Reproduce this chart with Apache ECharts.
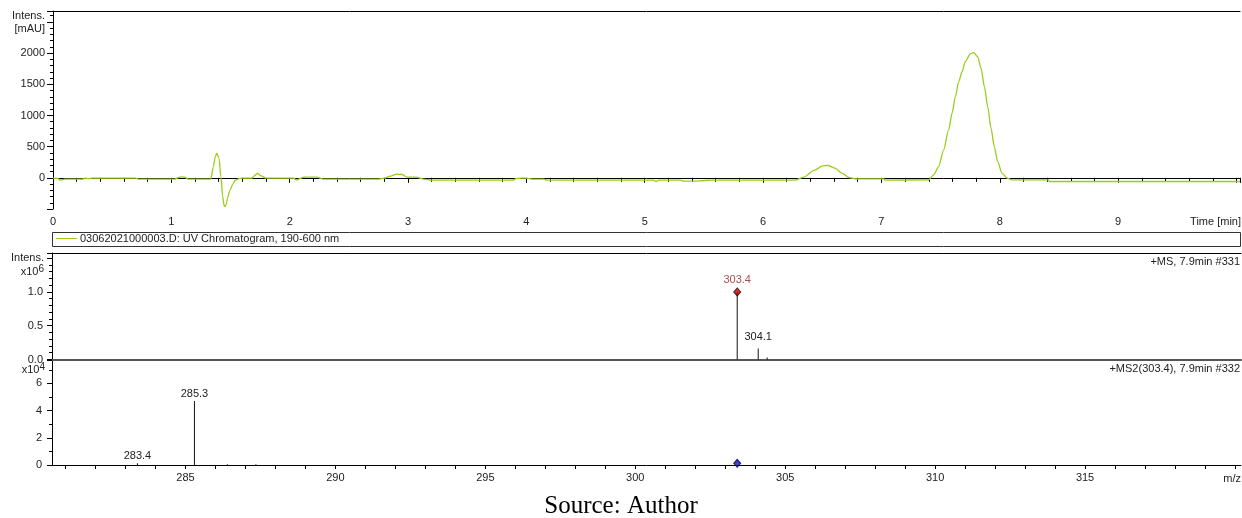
<!DOCTYPE html>
<html>
<head>
<meta charset="utf-8">
<script src="https://cdn.jsdelivr.net/npm/echarts@6/dist/echarts.min.js"></script>
<style>
  html, body { margin: 0; padding: 0; background: #fff; }
  #main { width: 1242px; height: 518px; }
</style>
</head>
<body>
<div id="main"></div>
<script>
// UV chromatogram (time in min, intensity in mAU)
const uvTime = [0.00, 0.04, 0.06, 0.10, 0.25, 0.27, 0.30, 0.33, 0.70, 0.72, 1.03, 1.06, 1.09, 1.12, 1.14,
  1.333, 1.355, 1.37, 1.384, 1.403, 1.418, 1.434, 1.445, 1.454, 1.465, 1.474, 1.496, 1.52, 1.538, 1.566,
  1.60, 1.68, 1.70, 1.727, 1.76, 1.792, 1.80, 2.03, 2.06, 2.09, 2.11, 2.14, 2.23, 2.26, 2.28, 2.75, 2.80,
  2.85, 2.905, 2.95, 2.99, 3.07, 3.13, 3.20, 3.88, 3.92, 3.96, 4.00, 4.05, 4.15, 4.17, 5.07, 5.10, 5.12,
  5.30, 5.33, 5.44, 5.47, 5.56, 6.27, 6.345, 6.43, 6.506, 6.55, 6.608, 6.667, 6.725, 6.78, 7.02, 7.03,
  7.399, 7.441, 7.484, 7.526, 7.568, 7.597, 7.625, 7.653, 7.682, 7.709, 7.751, 7.779, 7.813, 7.842, 7.870,
  7.898, 7.926, 7.954, 7.982, 8.019, 8.062, 8.104, 8.41, 8.42, 10.03];
const uvInt = [-5, -10, -37, -20, -20, -5, -12, -5, -5, -21, -21, 5, 16, 5, -21,
  -21, 181, 330, 396, 316, 21, -300, -440, -460, -420, -326, -192, -100, -43, -16,
  -5, -5, 30, 70, 30, 0, -5, -5, -37, -10, 8, 11, 11, -5, -21, -21, -5,
  27, 59, 53, 11, 11, -21, -37, -37, -10, -5, -5, -21, -21, -37, -37, -59, -37,
  -37, -53, -53, -48, -37, -37, 11, 118, 193, 198, 155, 75, 5, -16, -16, -37,
  -32, 48, 181, 449, 769, 1036, 1303, 1543, 1703, 1864, 1987, 2008, 1944, 1758, 1463,
  1143, 797, 502, 261, 75, -5, -32, -32, -59, -59];
const timeLabels = [0, 1, 2, 3, 4, 5, 6, 7, 8, 9];

// +MS spectrum (intensity x10^6)
const msMz = [303.4, 304.1, 304.4];
const msInt = [1.0, 0.163, 0.03];
const msLabel = ['', '304.1', ''];
const msPrecursor = [303.4, 1.0];

// +MS2 spectrum (intensity x10^4)
const ms2Mz = [283.4, 285.3, 286.4, 287.35];
const ms2Int = [0.12, 4.7, 0.05, 0.05];
const ms2Label = ['283.4', '285.3', '', ''];
const ms2Precursor = [303.4, 0.125];

const mzTicks = [281, 282, 283, 284, 285, 286, 287, 288, 289, 290, 291, 292, 293, 294, 295, 296, 297, 298, 299, 300,
  301, 302, 303, 304, 305, 306, 307, 308, 309, 310, 311, 312, 313, 314, 315, 316, 317, 318, 319, 320];
const mzLabels = [285, 290, 295, 300, 305, 310, 315];

const FONT = 'Liberation Sans';
const TXT = '#222';
const GREEN = '#9acd1a';
const MZ_MIN = 280.55, MZ_MAX = 320.2;

const chart = echarts.init(document.getElementById('main'));

const lbl = { fontFamily: FONT, fontSize: 11, color: TXT };
const blackLine = { lineStyle: { color: '#000', width: 1 } };
const smallTitle = { fontFamily: FONT, fontSize: 11, fontWeight: 'normal', color: TXT };

const option = {
  animation: false,
  backgroundColor: '#fff',
  textStyle: { fontFamily: FONT },
  title: [
    { text: 'Time [min]', right: 1, top: 216, padding: 0, textStyle: smallTitle },
    { text: '+MS, 7.9min #331', right: 2, top: 256, padding: 0, textStyle: smallTitle },
    { text: '+MS2(303.4), 7.9min #332', right: 2, top: 363, padding: 0, textStyle: smallTitle },
    { text: 'Source: Author', left: 'center', top: 494, padding: 0,
      textStyle: { fontFamily: 'Liberation Serif', fontSize: 25, fontWeight: 'normal', color: '#000' } }
  ],
  legend: {
    left: 56, top: 233, padding: 0,
    icon: 'rect', itemWidth: 21, itemHeight: 1, itemGap: 4,
    data: ['03062021000003.D: UV Chromatogram, 190-600 nm'],
    textStyle: { fontFamily: FONT, fontSize: 11, color: TXT, padding: [0, 0, 0, -2] }
  },
  graphic: [
    { type: 'rect', shape: { x: 52.5, y: 232.5, width: 1188, height: 14 },
      style: { fill: 'none', stroke: '#333', lineWidth: 1 }, silent: true }
  ],
  grid: [
    { left: 53, right: 2, top: 11, height: 198 },
    { left: 52, right: 1, top: 253, height: 106.5 },
    { left: 52, right: 1, top: 360, height: 105 }
  ],
  xAxis: [
    { type: 'value', gridIndex: 0, min: 0, max: 10.03, interval: 1,
      axisLine: blackLine, splitLine: { show: false },
      axisTick: { length: 5, lineStyle: { color: '#000' } },
      minorTick: { show: true, splitNumber: 5, length: 4, lineStyle: { color: '#000' } },
      axisLabel: Object.assign({ margin: 7, customValues: timeLabels }, lbl) },
    { type: 'value', gridIndex: 0, position: 'top', min: 0, max: 10.03,
      axisLine: blackLine, axisTick: { show: false }, axisLabel: { show: false }, splitLine: { show: false } },
    { type: 'value', gridIndex: 1, min: MZ_MIN, max: MZ_MAX,
      axisLine: { lineStyle: { color: '#555', width: 2 } },
      axisTick: { show: false }, axisLabel: { show: false }, splitLine: { show: false } },
    { type: 'value', gridIndex: 1, position: 'top', min: MZ_MIN, max: MZ_MAX,
      axisLine: blackLine, axisTick: { show: false }, axisLabel: { show: false }, splitLine: { show: false } },
    { type: 'value', gridIndex: 2, min: MZ_MIN, max: MZ_MAX,
      axisLine: blackLine, splitLine: { show: false },
      axisTick: { customValues: mzTicks, length: 4, lineStyle: { color: '#000' } },
      axisLabel: Object.assign({ customValues: mzLabels, margin: 7 }, lbl),
      name: 'm/z', nameLocation: 'end', nameGap: 0, nameMoveOverlap: false,
      nameTextStyle: Object.assign({ align: 'right', verticalAlign: 'top', padding: [8, 0, 0, 0] }, lbl) }
  ],
  yAxis: [
    { type: 'value', gridIndex: 0, min: -500, max: 2676, interval: 500,
      axisLine: { show: true, lineStyle: { color: '#000' } }, splitLine: { show: false },
      axisTick: { show: true, length: 6, lineStyle: { color: '#000' } },
      minorTick: { show: true, splitNumber: 5, length: 3, lineStyle: { color: '#000' } },
      axisLabel: Object.assign({ margin: 8, showMinLabel: false, showMaxLabel: false,
        formatter: v => (v < 0 || v > 2000 ? '' : String(v)) }, lbl),
      name: 'Intens.\n[mAU]', nameLocation: 'end', nameGap: 1.5, nameMoveOverlap: false,
      nameTextStyle: Object.assign({ align: 'right', verticalAlign: 'top', lineHeight: 13, padding: [0, 8, 0, 0] }, lbl) },
    { type: 'value', gridIndex: 1, min: 0, max: 1.577, interval: 0.5,
      axisLine: { show: true, lineStyle: { color: '#000' } }, splitLine: { show: false },
      axisTick: { show: true, length: 5, lineStyle: { color: '#000' } },
      minorTick: { show: true, splitNumber: 5, length: 3, lineStyle: { color: '#000' } },
      axisLabel: Object.assign({ margin: 9, showMaxLabel: false,
        formatter: v => (v > 1.2 ? '' : v.toFixed(1)) }, lbl),
      name: '{a|Intens.}\n{a|x10}{s|6}', nameLocation: 'end', nameGap: 1, nameMoveOverlap: false,
      nameTextStyle: { align: 'right', verticalAlign: 'top', padding: [0, 8, 0, 0],
        rich: { a: Object.assign({ lineHeight: 12 }, lbl),
                s: { fontFamily: FONT, fontSize: 10, color: TXT, verticalAlign: 'bottom', padding: [0, 0, 6, 0] } } } },
    { type: 'value', gridIndex: 2, min: 0, max: 7.72, interval: 2,
      axisLine: { show: true, lineStyle: { color: '#000' } }, splitLine: { show: false },
      axisTick: { show: true, length: 5, lineStyle: { color: '#000' } },
      minorTick: { show: true, splitNumber: 2, length: 3, lineStyle: { color: '#000' } },
      axisLabel: Object.assign({ margin: 10, showMaxLabel: false,
        formatter: v => (v > 7 ? '' : String(v)) }, lbl),
      name: '{a|x10}{s|4}', nameLocation: 'end', nameGap: -2, nameMoveOverlap: false,
      nameTextStyle: { align: 'right', verticalAlign: 'top', padding: [0, 7, 0, 0],
        rich: { a: Object.assign({ lineHeight: 12 }, lbl),
                s: { fontFamily: FONT, fontSize: 10, color: TXT, verticalAlign: 'bottom', padding: [0, 0, 6, 0] } } } }
  ],
  series: [
    { name: '03062021000003.D: UV Chromatogram, 190-600 nm', type: 'line',
      xAxisIndex: 0, yAxisIndex: 0, symbol: 'none', smooth: 0.25, smoothMonotone: 'x',
      lineStyle: { color: GREEN, width: 1.3 }, itemStyle: { color: GREEN },
      data: uvTime.map((t, i) => [t, uvInt[i]]) },
    { type: 'bar', xAxisIndex: 2, yAxisIndex: 1, barWidth: 1,
      itemStyle: { color: '#111' },
      label: { show: true, position: 'top', distance: 6, fontFamily: FONT, fontSize: 11, color: TXT,
        formatter: p => msLabel[p.dataIndex] },
      data: msMz.map((m, i) => [m, msInt[i]]) },
    { type: 'scatter', xAxisIndex: 2, yAxisIndex: 1, symbol: 'diamond', symbolSize: [7, 8],
      itemStyle: { color: '#c00000', borderColor: '#300', borderWidth: 1 },
      label: { show: true, position: 'top', distance: 2, fontFamily: FONT, fontSize: 11, color: '#952222',
        formatter: p => p.value[0].toFixed(1) },
      data: [msPrecursor] },
    { type: 'bar', xAxisIndex: 4, yAxisIndex: 2, barWidth: 1,
      itemStyle: { color: '#111' },
      label: { show: true, position: 'top', distance: 2, fontFamily: FONT, fontSize: 11, color: TXT,
        formatter: p => ms2Label[p.dataIndex] },
      data: ms2Mz.map((m, i) => [m, ms2Int[i]]) },
    { type: 'scatter', xAxisIndex: 4, yAxisIndex: 2, symbol: 'diamond', symbolSize: [7, 8],
      itemStyle: { color: '#1010c8', borderColor: '#000033', borderWidth: 1 },
      data: [ms2Precursor] }
  ]
};

chart.setOption(option);
</script>
</body>
</html>
